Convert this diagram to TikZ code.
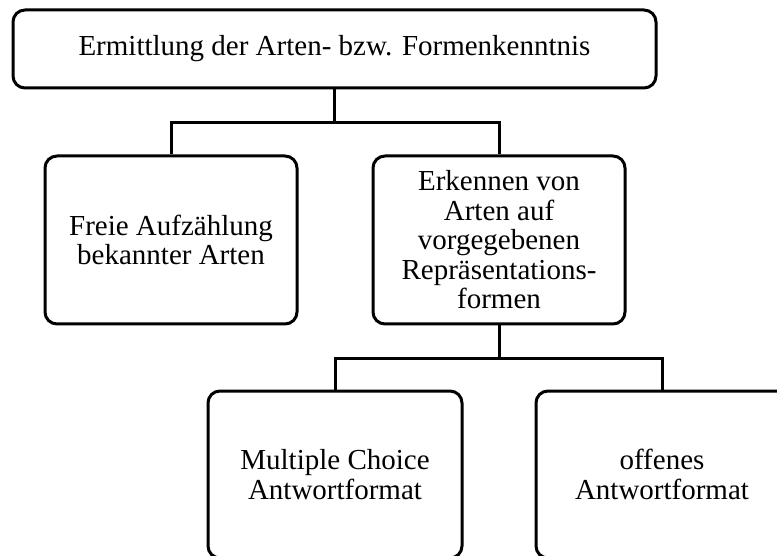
\documentclass[tikz,border=0pt]{standalone}
\usepackage{fontspec}
\setmainfont{Liberation Serif}
\begin{document}
\begin{tikzpicture}[x=1pt,y=-1pt,
  box/.style={draw, line width=3pt, rounded corners=12pt, align=center,
    inner sep=0pt, font=\fontsize{29}{29.5}\selectfont},
  link/.style={line width=3pt}]
\useasboundingbox (0,0) rectangle (777,556);
\clip (0,0) rectangle (777,556);

% hierarchy boxes
\node[box, minimum width=643pt, minimum height=78pt] (top) at (334.5,49)
  {Ermittlung der Arten- bzw. Formenkenntnis};
\node[box, minimum width=252pt, minimum height=168pt] (free) at (171,240)
  {Freie Aufzählung\\bekannter Arten};
\node[box, minimum width=252pt, minimum height=168pt] (recog) at (499,240)
  {Erkennen von\\Arten auf\\vorgegebenen\\Repräsentations-\\formen};
\node[box, minimum width=254pt, minimum height=167pt] (mc) at (335,474.5)
  {Multiple Choice\\Antwortformat};
\node[box, minimum width=252pt, minimum height=167pt] (open) at (662,474.5)
  {offenes\\Antwortformat};

% branching connectors
\coordinate (j1) at (334.5,123);
\coordinate (j2) at (499,358);
\draw[link] (top.south) -- (j1);
\draw[link] (free.north) |- (j1) -| (recog.north);
\draw[link] (recog.south) -- (j2);
\draw[link] (mc.north) |- (j2) -| (open.north);
\end{tikzpicture}
\end{document}
